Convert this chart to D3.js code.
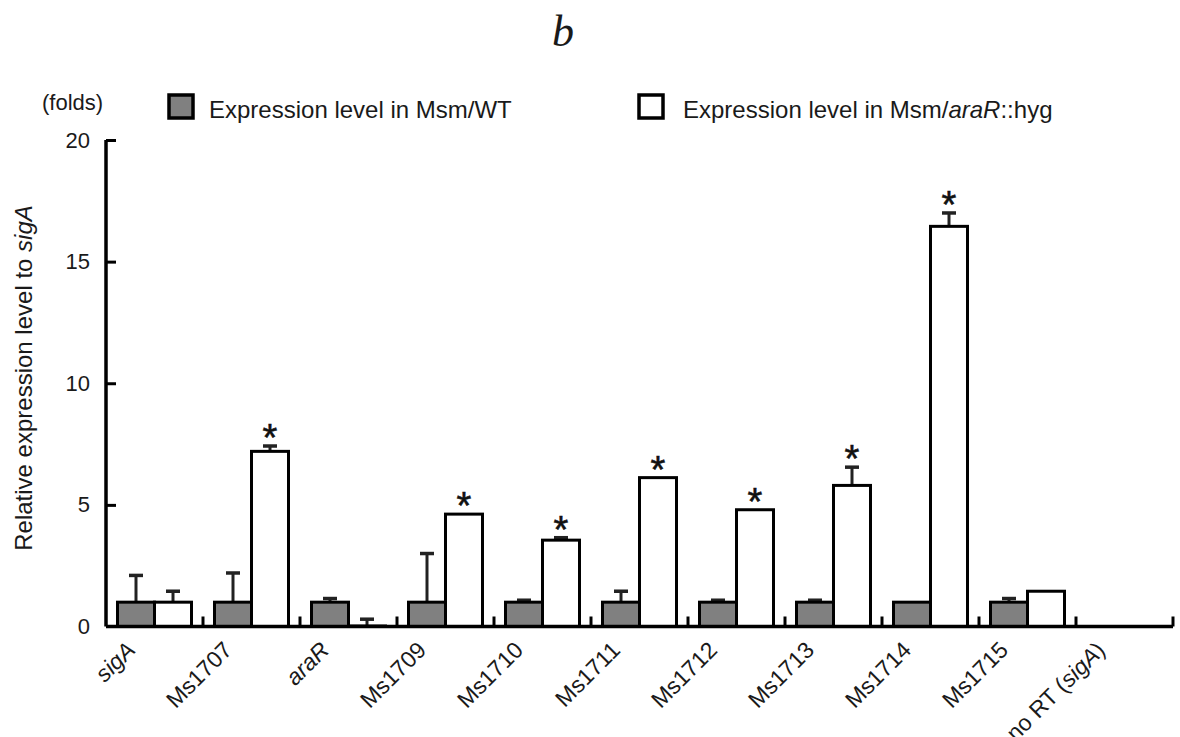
<!DOCTYPE html>
<html><head><meta charset="utf-8">
<script src="https://cdn.jsdelivr.net/npm/d3@7"></script>
<style>
body{margin:0;background:#fff;}
text{font-family:"Liberation Sans",Arial,Helvetica,sans-serif;fill:#1a1a1a;}
</style></head><body>
<svg id="chart" width="1180" height="737"></svg>
<script>
const categories = ["sigA","Ms1707","araR","Ms1709","Ms1710","Ms1711","Ms1712","Ms1713","Ms1714","Ms1715","no RT (sigA)"];
const wtValues   = [1, 1, 1, 1, 1, 1, 1, 1, 1, 1, 0];
const wtErrors   = [1.1, 1.2, 0.15, 2.0, 0.08, 0.45, 0.08, 0.08, 0, 0.15, 0];
const mutValues  = [1, 7.2, 0.02, 4.62, 3.55, 6.12, 4.8, 5.8, 16.45, 1.45, 0];
const mutErrors  = [0.45, 0.22, 0.28, 0, 0.1, 0, 0, 0.75, 0.55, 0, 0];
const significant = [false, true, false, true, true, true, true, true, true, false, false];
const yTicks = [0, 5, 10, 15, 20];
const seriesNames = ["Expression level in Msm/WT", "Expression level in Msm/araR::hyg"];

const svg = d3.select("#chart");
const x = d3.scaleBand().domain(categories).range([106, 1173]).padding(0);
const y = d3.scaleLinear().domain([0, 20]).range([626.5, 140]);
const barW = 37;
const grey = "#808080";

// Title
svg.append("text").attr("x", 563).attr("y", 46).attr("text-anchor","middle")
  .style("font-family","'Liberation Serif','Times New Roman',serif").style("font-style","italic")
  .style("font-size","44px").text("b");

// bars
const g = svg.append("g");
categories.forEach((c,i)=>{
  const cx = x(c) + x.bandwidth()/2;
  if (wtValues[i] > 0) {
    if (wtErrors[i] > 0) {
      g.append("line").attr("x1",cx-barW/2).attr("x2",cx-barW/2)
        .attr("y1",y(wtValues[i])).attr("y2",y(wtValues[i]+wtErrors[i])).attr("stroke","#222").attr("stroke-width",3);
      g.append("line").attr("x1",cx-barW/2-7).attr("x2",cx-barW/2+7)
        .attr("y1",y(wtValues[i]+wtErrors[i])).attr("y2",y(wtValues[i]+wtErrors[i])).attr("stroke","#222").attr("stroke-width",3.5);
    }
    g.append("rect").attr("x",cx-barW).attr("width",barW)
      .attr("y",y(wtValues[i])).attr("height",y(0)-y(wtValues[i]))
      .attr("fill",grey).attr("stroke","#000").attr("stroke-width",3);
  }
  if (mutValues[i] > 0) {
    if (mutErrors[i] > 0) {
      g.append("line").attr("x1",cx+barW/2).attr("x2",cx+barW/2)
        .attr("y1",y(mutValues[i])).attr("y2",y(mutValues[i]+mutErrors[i])).attr("stroke","#222").attr("stroke-width",3);
      g.append("line").attr("x1",cx+barW/2-7).attr("x2",cx+barW/2+7)
        .attr("y1",y(mutValues[i]+mutErrors[i])).attr("y2",y(mutValues[i]+mutErrors[i])).attr("stroke","#222").attr("stroke-width",3.5);
    }
    g.append("rect").attr("x",cx).attr("width",barW)
      .attr("y",y(mutValues[i])).attr("height",y(0)-y(mutValues[i]))
      .attr("fill","#fff").attr("stroke","#000").attr("stroke-width",3);
    if (significant[i]) {
      const top = y(mutValues[i]+mutErrors[i]);
      g.append("text").attr("x",cx+barW/2).attr("y",top+5).attr("text-anchor","middle")
        .style("font-size","38px").style("fill","#111").style("stroke","#111").style("stroke-width",0.6).text("*");
    }
  }
});

// Y axis
const yAxis = d3.axisLeft(y).tickValues(yTicks).tickSize(0).tickPadding(16);
const ya = svg.append("g").attr("transform","translate(106,0)").call(yAxis);
ya.select(".domain").attr("stroke","#000").attr("stroke-width",3.5);
ya.selectAll("text").style("font-size","22px").style("fill","#1a1a1a").style("font-family","'Liberation Sans',Arial,sans-serif");
ya.selectAll(".tick").filter(d=>d>0).append("line").attr("x1",0).attr("x2",10).attr("stroke","#000").attr("stroke-width",3);
ya.select(".domain").attr("d", `M0,${y(20)}V${y(0)}`);

// X axis
const xAxis = d3.axisBottom(x).tickSize(0).tickPadding(0);
const xa = svg.append("g").attr("transform",`translate(0,${y(0)})`).call(xAxis);
xa.select(".domain").attr("d",`M106,0H1173`).attr("stroke","#000").attr("stroke-width",3.5);
xa.selectAll(".tick text").each(function(d){
  const t = d3.select(this);
  t.text(null).attr("text-anchor","end").attr("dy",null).attr("y",0)
   .attr("transform","translate(-18,25) rotate(-45)")
   .style("font-size","23px").style("fill","#1a1a1a").style("font-family","'Liberation Sans',Arial,sans-serif");
  if (d === "sigA" || d === "araR") {
    t.append("tspan").style("font-style","italic").text(d);
  } else if (d === "no RT (sigA)") {
    t.append("tspan").text("no RT (");
    t.append("tspan").style("font-style","italic").text("sigA");
    t.append("tspan").text(")");
  } else {
    t.append("tspan").text(d);
  }
});
const bounds = categories.slice(1).map(c=>x(c)).concat([x.range()[1]]);
xa.selectAll(".btick").data(bounds).enter().append("line").attr("class","btick")
  .attr("x1",d=>d).attr("x2",d=>d).attr("y1",0).attr("y2",-10).attr("stroke","#000").attr("stroke-width",3);

// Y label
svg.append("text").attr("transform","translate(32,378) rotate(-90)").attr("text-anchor","middle")
  .style("font-size","24px")
  .call(t=>{t.append("tspan").text("Relative expression level to ");t.append("tspan").style("font-style","italic").text("sigA");});
svg.append("text").attr("x",42).attr("y",110).style("font-size","22px").text("(folds)");

// Legend
const lg = svg.append("g");
lg.append("rect").attr("x",169).attr("y",95).attr("width",24).attr("height",23).attr("fill",grey).attr("stroke","#000").attr("stroke-width",3.5);
lg.append("text").attr("x",209).attr("y",118).style("font-size","24px").text(seriesNames[0]);
lg.append("rect").attr("x",639).attr("y",95).attr("width",24).attr("height",23).attr("fill","#fff").attr("stroke","#000").attr("stroke-width",3.5);
lg.append("text").attr("x",683).attr("y",118).style("font-size","24px")
  .call(t=>{t.append("tspan").text("Expression level in Msm/");t.append("tspan").style("font-style","italic").text("araR");t.append("tspan").text("::hyg");});
</script>
</body></html>
